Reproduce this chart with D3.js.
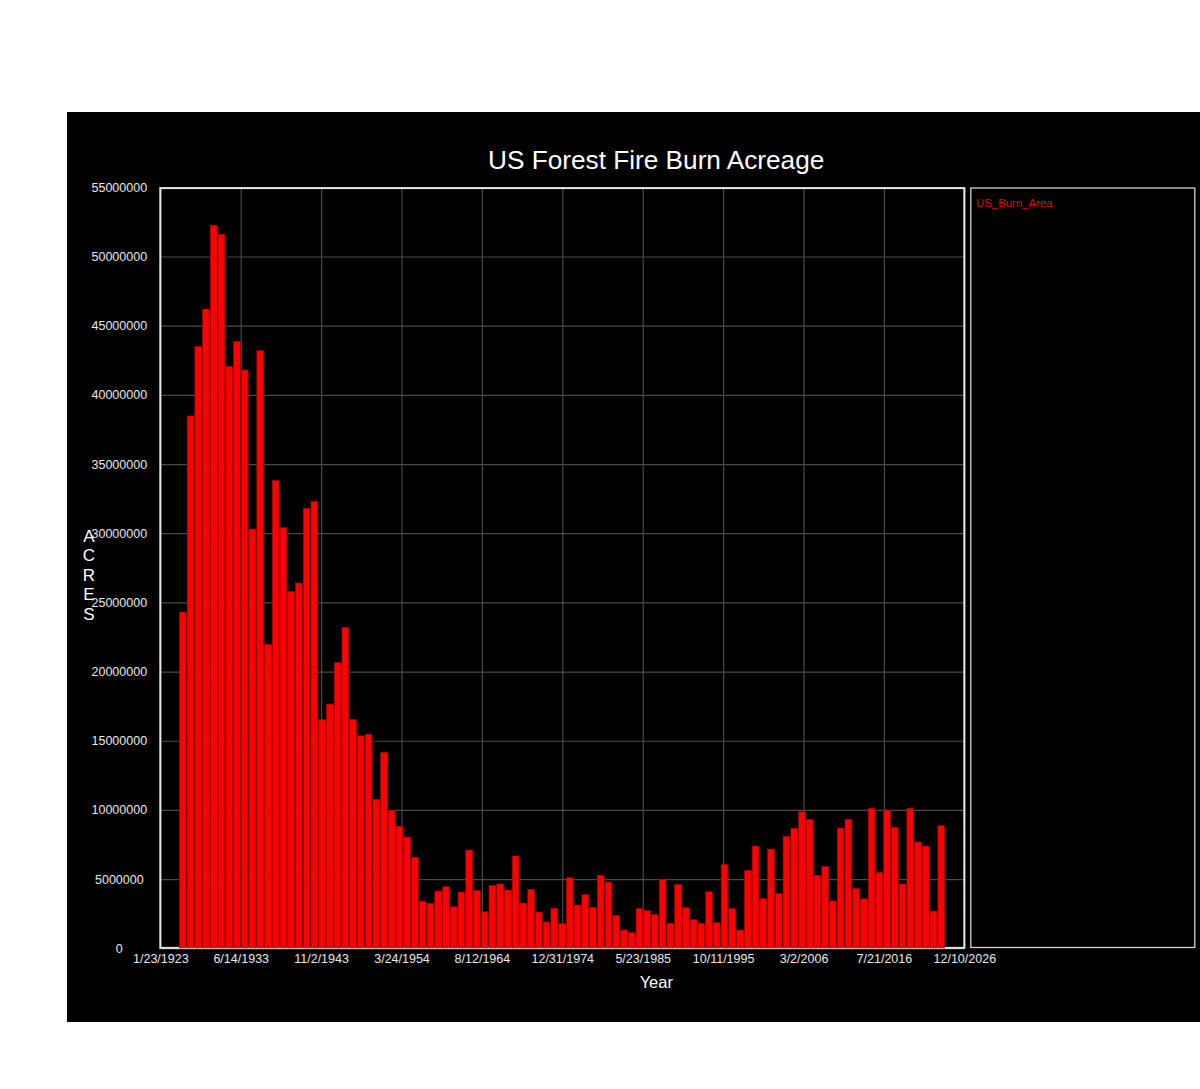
<!DOCTYPE html>
<html>
<head>
<meta charset="utf-8">
<script src="https://cdn.jsdelivr.net/npm/d3@7"></script>
<style>
  html, body { margin: 0; padding: 0; background: #ffffff; }
  svg { display: block; font-family: "Liberation Sans", Arial, sans-serif; }
</style>
</head>
<body>
<svg id="chart" width="1200" height="1089"></svg>
<script>
// ---------- data ----------
const years = [
  1926,1927,1928,1929,1930,1931,1932,1933,1934,1935,1936,1937,1938,1939,1940,1941,1942,1943,1944,1945,
  1946,1947,1948,1949,1950,1951,1952,1953,1954,1955,1956,1957,1958,1959,1960,1961,1962,1963,1964,1965,
  1966,1967,1968,1969,1970,1971,1972,1973,1974,1975,1976,1977,1978,1979,1980,1981,1982,1983,1984,1985,
  1986,1987,1988,1989,1990,1991,1992,1993,1994,1995,1996,1997,1998,1999,2000,2001,2002,2003,2004,2005,
  2006,2007,2008,2009,2010,2011,2012,2013,2014,2015,2016,2017,2018,2019,2020,2021,2022,2023,2024
];
const burnArea = [
  24300000,38480000,43500000,46200000,52260000,51600000,42050000,43860000,41800000,30300000,
  43200000,21970000,33800000,30400000,25800000,26400000,31800000,32300000,16550000,17650000,
  20660000,23200000,16550000,15360000,15480000,10770000,14160000,9970000,8820000,8040000,
  6580000,3400000,3250000,4140000,4450000,3000000,4070000,7100000,4190000,2640000,
  4550000,4650000,4210000,6670000,3270000,4260000,2620000,1900000,2890000,1780000,
  5100000,3130000,3900000,2960000,5270000,4790000,2380000,1320000,1130000,2890000,
  2720000,2430000,4990000,1810000,4620000,2930000,2070000,1810000,4090000,1850000,
  6070000,2860000,1320000,5640000,7390000,3580000,7170000,3950000,8090000,8670000,
  9870000,9320000,5270000,5920000,3420000,8690000,9320000,4310000,3580000,10120000,
  5490000,9990000,8740000,4650000,10120000,7680000,7390000,2690000,8860000
];
const xTickLabels = ["1/23/1923","6/14/1933","11/2/1943","3/24/1954","8/12/1964","12/31/1974",
                     "5/23/1985","10/11/1995","3/2/2006","7/21/2016","12/10/2026"];
const yTickValues = [0,5000000,10000000,15000000,20000000,25000000,30000000,35000000,
                     40000000,45000000,50000000,55000000];
const seriesName = "US_Burn_Area";
const chartTitle = "US Forest Fire Burn Acreage";
const xTitle = "Year";
const yTitle = "ACRES";

// ---------- layout ----------
const svg = d3.select("#chart");
const plot = {left: 160.3, right: 964.3, top: 187.3, bottom: 948.3};

function parseMDY(s) {
  const [m, d, y] = s.split("/").map(Number);
  return new Date(Date.UTC(y, m - 1, d));
}
const xTickDates = xTickLabels.map(parseMDY);

const x = d3.scaleUtc()
  .domain([xTickDates[0], xTickDates[xTickDates.length - 1]])
  .range([plot.left, plot.right]);
const y = d3.scaleLinear()
  .domain([0, 55000000])
  .range([plot.bottom, plot.top]);

// background panel
svg.append("rect")
  .attr("x", 67).attr("y", 112).attr("width", 1133).attr("height", 910)
  .attr("fill", "#000");

// gridlines
const gx = svg.append("g")
  .attr("transform", `translate(0,${plot.bottom})`)
  .call(d3.axisBottom(x).tickValues(xTickDates).tickSize(-(plot.bottom - plot.top)).tickFormat(""));
gx.select(".domain").remove();
gx.selectAll("line").attr("stroke", "#4a4a4a").attr("stroke-width", 1.2);

const gy = svg.append("g")
  .attr("transform", `translate(${plot.left},0)`)
  .call(d3.axisLeft(y).tickValues(yTickValues).tickSize(-(plot.right - plot.left)).tickFormat(""));
gy.select(".domain").remove();
gy.selectAll("line").attr("stroke", "#4a4a4a").attr("stroke-width", 1.2);

// plot frame
svg.append("rect")
  .attr("x", plot.left).attr("y", plot.top + 0.8)
  .attr("width", plot.right - plot.left).attr("height", plot.bottom - plot.top - 1.2)
  .attr("fill", "none").attr("stroke", "#e6e6e6").attr("stroke-width", 2);

// bars
const barW = 6.7;
svg.append("g").selectAll("rect")
  .data(years.map((yr, i) => ({yr, v: burnArea[i]})))
  .join("rect")
  .attr("x", d => x(new Date(Date.UTC(d.yr, 0, 1))) - barW / 2 - 0.3)
  .attr("y", d => y(d.v))
  .attr("width", barW)
  .attr("height", d => y(0) - y(d.v) - 0.5)
  .attr("fill", "#ff0000")
  .attr("stroke", "#a00000")
  .attr("stroke-width", 0.7);

// x tick labels
const ax = svg.append("g")
  .attr("transform", `translate(0,${plot.bottom})`)
  .call(d3.axisBottom(x).tickValues(xTickDates).tickSize(0).tickPadding(6)
        .tickFormat((d, i) => xTickLabels[i]));
ax.select(".domain").remove();
ax.selectAll("text")
  .attr("fill", "#e8e8e8")
  .style("font-size", "12.5px")
  .style("font-family", "'Liberation Sans', Arial, sans-serif");

// y tick labels (centered)
const ay = svg.append("g")
  .attr("transform", `translate(${plot.left},0)`)
  .call(d3.axisLeft(y).tickValues(yTickValues).tickSize(0).tickPadding(41)
        .tickFormat(d3.format("d")));
ay.select(".domain").remove();
ay.selectAll("text")
  .attr("text-anchor", "middle")
  .attr("fill", "#e8e8e8")
  .style("font-size", "12.5px")
  .style("font-family", "'Liberation Sans', Arial, sans-serif");

// title
svg.append("text")
  .attr("x", 656.2).attr("y", 169)
  .attr("text-anchor", "middle")
  .attr("fill", "#ffffff")
  .style("font-size", "26.2px")
  .text(chartTitle);

// x title
svg.append("text")
  .attr("x", 656.3).attr("y", 988)
  .attr("text-anchor", "middle")
  .attr("fill", "#ffffff")
  .style("font-size", "16.5px")
  .text(xTitle);

// y title (stacked letters)
const yt = svg.append("text")
  .attr("x", 89).attr("y", 541.7)
  .attr("text-anchor", "middle")
  .attr("fill", "#ffffff")
  .style("font-size", "17px");
yt.selectAll("tspan")
  .data(yTitle.split(""))
  .join("tspan")
  .attr("x", 89)
  .attr("dy", (d, i) => i === 0 ? 0 : 19.5)
  .text(d => d);

// legend
svg.append("rect")
  .attr("x", 970.8).attr("y", 188)
  .attr("width", 224).attr("height", 759.5)
  .attr("fill", "#000").attr("stroke", "#d0d0d0").attr("stroke-width", 1.3);
svg.append("text")
  .attr("x", 976).attr("y", 207)
  .attr("fill", "#e00000")
  .style("font-size", "11.4px")
  .text(seriesName);
</script>
</body>
</html>
